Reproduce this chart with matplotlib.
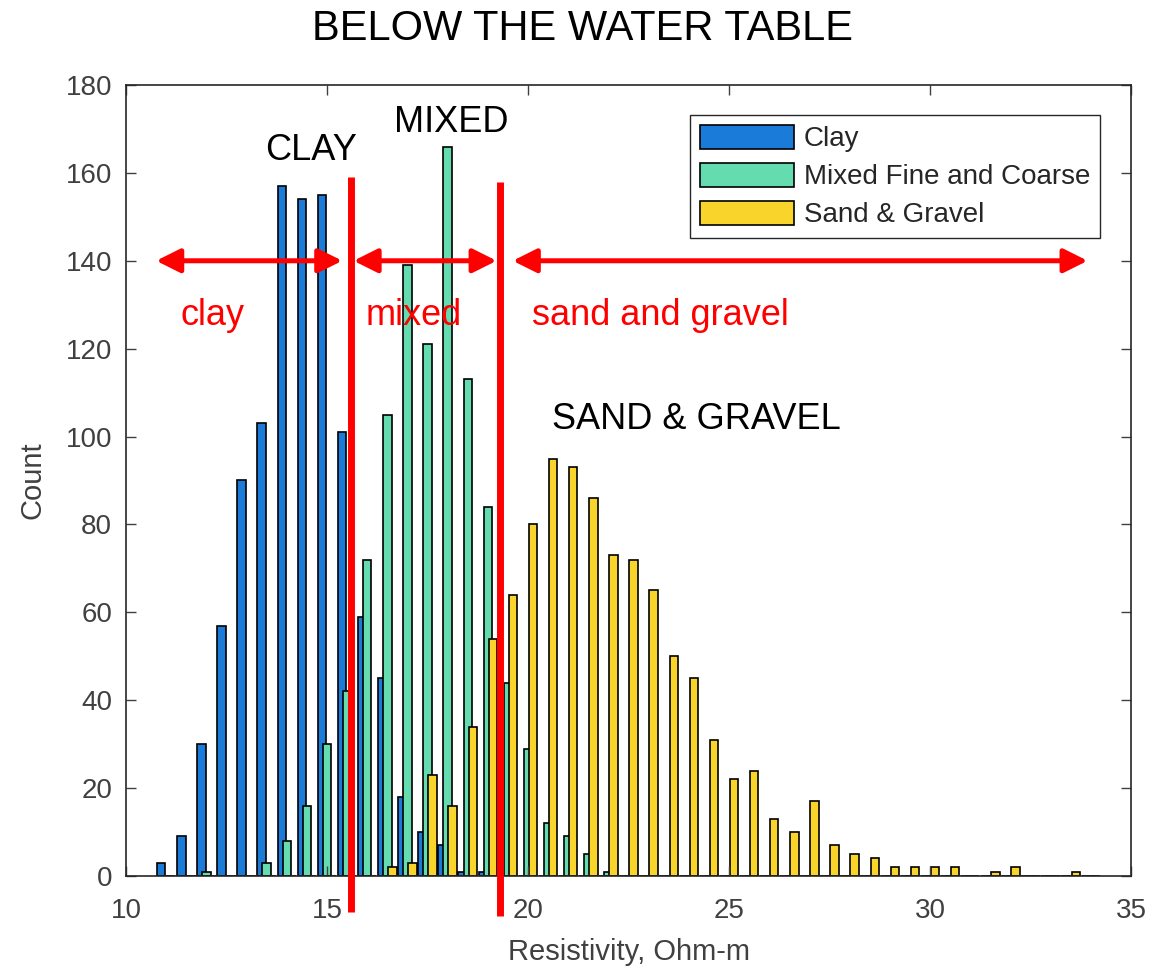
import matplotlib
matplotlib.use('Agg')
import matplotlib.pyplot as plt
import numpy as np

plt.rcParams['font.family'] = ['Liberation Sans', 'DejaVu Sans']

# ── data: histogram counts per 0.5 Ohm-m bin (bin centres 11.0 ... 34.0) ──
bin_start = 11.0
bin_step = 0.5
clay = [3, 9, 30, 57, 90, 103, 157, 154, 155, 101, 59, 45, 18, 10, 7, 1, 1,
        0, 0, 0, 0, 0, 0, 0, 0, 0, 0, 0, 0, 0, 0, 0, 0, 0, 0, 0, 0, 0, 0, 0,
        0, 0, 0, 0, 0, 0, 0]
mixed = [0, 0, 1, 0, 0, 3, 8, 16, 30, 42, 72, 105, 139, 121, 166, 113, 84,
         44, 29, 12, 9, 5, 1,
         0, 0, 0, 0, 0, 0, 0, 0, 0, 0, 0, 0, 0, 0, 0, 0, 0, 0, 0, 0, 0, 0, 0, 0]
sand = [0, 0, 0, 0, 0, 0, 0, 0, 0, 0, 0,
        2, 3, 23, 16, 34, 54, 64, 80, 95, 93, 86, 73, 72, 65, 50, 45, 31, 22,
        24, 13, 10, 17, 7, 5, 4, 2, 2, 2, 2, 0, 1, 2, 0, 0, 1, 0]
labels = ['Clay', 'Mixed Fine and Coarse', 'Sand & Gravel']

# class boundaries and region annotations
bounds = [15.6, 19.3]
regions = [(10.75, 15.38, 'clay', 12.15),
           (15.66, 19.22, 'mixed', 17.15),
           (19.62, 33.92, 'sand and gravel', 23.3)]

BLUE = '#1B7BD8'
GREEN = '#64DCB0'
YELLOW = '#F9D42B'
DARK = '#262626'
TICK = '#404040'
RED = '#FF0000'

centers = bin_start + bin_step * np.arange(len(clay))

fig = plt.figure(figsize=(11.54, 9.77), dpi=100)
ax = fig.add_axes([0.1092, 0.1034, 0.8709, 0.8096])

w = 0.21
off = 0.125
for vals, dx, col, lab in zip([clay, mixed, sand], [-off, 0, off],
                              [BLUE, GREEN, YELLOW], labels):
    ax.bar(centers + dx, vals, w, color=col, edgecolor='black',
           linewidth=1.2, label=lab)

ax.set_xlim(10, 35)
ax.set_ylim(0, 180)
ax.set_xticks(range(10, 36, 5))
ax.set_yticks(range(0, 181, 20))
ax.tick_params(direction='in', top=True, right=True, length=7,
               width=1, colors=TICK, labelsize=20)
ax.tick_params(axis='x', pad=16)
ax.tick_params(axis='y', pad=10)
for s in ax.spines.values():
    s.set_color(DARK)
    s.set_linewidth(1.2)
ax.set_xlabel('Resistivity, Ohm-m', fontsize=21, color=TICK, labelpad=10)
ax.set_ylabel('Count', fontsize=21, color=TICK, labelpad=14)

leg = ax.legend(loc='upper right', bbox_to_anchor=(0.969, 0.962),
                borderaxespad=0, fontsize=20, fancybox=False,
                edgecolor=DARK, framealpha=1, handlelength=3.4,
                handleheight=0.95, labelspacing=0.38, handletextpad=0.35,
                borderpad=0.35)
leg.get_frame().set_linewidth(1.0)
for t in leg.get_texts():
    t.set_color(DARK)

# red class boundaries (extend below the axis)
ax.plot([bounds[0]] * 2, [-8.2, 159], color=RED, lw=5, clip_on=False,
        solid_capstyle='butt', zorder=5)
ax.plot([bounds[1]] * 2, [-9.2, 158], color=RED, lw=5, clip_on=False,
        solid_capstyle='butt', zorder=5)

for x0, x1, txt, tx in regions:
    ax.annotate('', xy=(x1, 140), xytext=(x0, 140),
                arrowprops=dict(arrowstyle='<|-|>,head_length=0.6,head_width=0.3',
                                mutation_scale=24, color=RED, lw=3.6,
                                shrinkA=0, shrinkB=0), zorder=6)
    ax.text(tx, 127.6, txt, color=RED, fontsize=26, ha='center', va='center',
            zorder=6)

ax.text(14.6, 165.0, 'CLAY', fontsize=26, ha='center', va='center', color='black')
ax.text(18.1, 171.5, 'MIXED', fontsize=26, ha='center', va='center', color='black')
ax.text(24.2, 103.8, 'SAND & GRAVEL', fontsize=26, ha='center', va='center',
        color='black')

fig.text(0.505, 1 - 29 / 977, 'BELOW THE WATER TABLE', fontsize=30,
         ha='center', va='center', color='black')

fig.savefig('out.png', dpi=100, facecolor='white')
